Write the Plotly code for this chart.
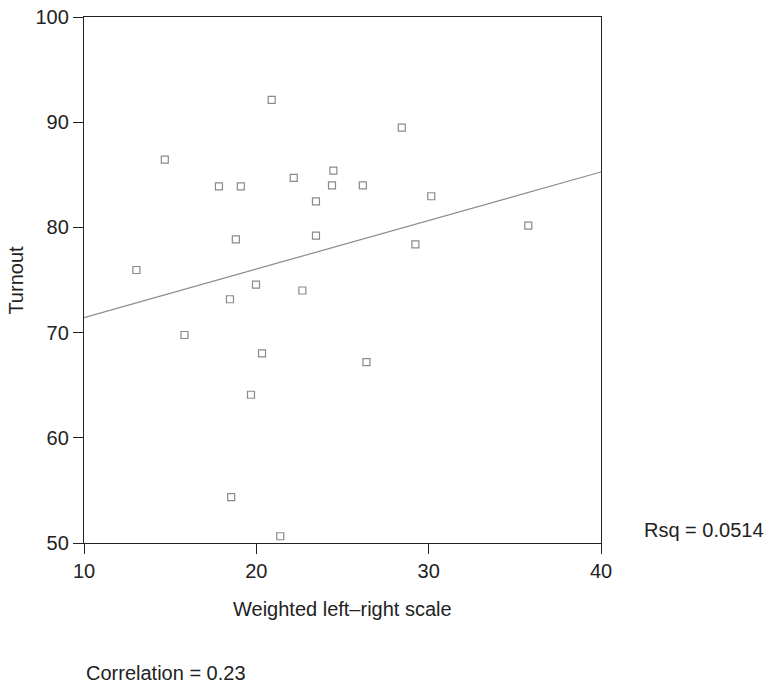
import plotly.graph_objects as go

# Data
lr_scale = [13.04, 14.69, 15.83, 17.83, 18.81, 18.47, 19.10, 19.98, 20.33, 19.69,
            18.54, 20.89, 22.17, 22.67, 21.39, 23.46, 23.46, 24.39, 24.47, 26.18,
            26.39, 28.44, 29.23, 30.15, 35.78]
turnout = [75.95, 86.44, 69.77, 83.9, 78.87, 73.17, 83.9, 74.56, 68.03, 64.09,
           54.37, 92.13, 84.70, 74.0, 50.64, 82.48, 79.22, 84.0, 85.4, 84.0,
           67.2, 89.49, 78.39, 82.96, 80.17]

fit_x = [10, 40]
fit_y = [71.43, 85.27]

x_ticks = [10, 20, 30, 40]
y_ticks = [50, 60, 70, 80, 90, 100]

FONT = "Liberation Sans, Arial, Helvetica, sans-serif"
TXT = "#222222"
FS = 20

fig = go.Figure()
fig.add_trace(go.Scatter(x=fit_x, y=fit_y, mode="lines",
                         line=dict(color="#8a8a8a", width=1.2),
                         hoverinfo="skip", showlegend=False))
fig.add_trace(go.Scatter(x=lr_scale, y=turnout, mode="markers",
                         marker=dict(symbol="square-open", size=7,
                                     color="#8a8a8a", line=dict(width=1.2)),
                         showlegend=False))

axis_common = dict(showgrid=False, zeroline=False, showline=True, mirror=True,
                   linecolor="#222222", linewidth=1.3, ticks="outside",
                   ticklen=10, tickwidth=1.3, tickcolor="#222222",
                   tickfont=dict(family=FONT, size=FS, color=TXT))

fig.update_xaxes(range=[10, 40], tickvals=x_ticks, **axis_common)
fig.update_yaxes(range=[50, 100], tickvals=y_ticks, **axis_common)

fig.update_layout(
    width=768, height=687,
    margin=dict(l=84, r=167, t=17, b=144, autoexpand=False),
    plot_bgcolor="white", paper_bgcolor="white",
    font=dict(family=FONT, size=FS, color=TXT),
    annotations=[
        dict(text="Turnout", xref="paper", yref="paper", x=-0.1323, y=0.5,
             xanchor="center", yanchor="middle", textangle=-90, showarrow=False,
             font=dict(family=FONT, size=FS, color=TXT)),
        dict(text="Weighted left\u2013right scale", xref="paper", yref="paper",
             x=0.5, y=-0.126, xanchor="center", yanchor="middle", showarrow=False,
             font=dict(family=FONT, size=FS, color=TXT)),
        dict(text="Rsq = 0.0514", xref="paper", yref="paper",
             x=1.0794, y=0.025, xanchor="left", yanchor="middle", showarrow=False,
             font=dict(family=FONT, size=FS, color=TXT)),
        dict(text="Correlation = 0.23", xref="paper", yref="paper",
             x=0.0, y=-0.2477, xanchor="left", yanchor="middle", showarrow=False,
             font=dict(family=FONT, size=FS, color=TXT)),
    ],
)

fig.write_html("out.html")
